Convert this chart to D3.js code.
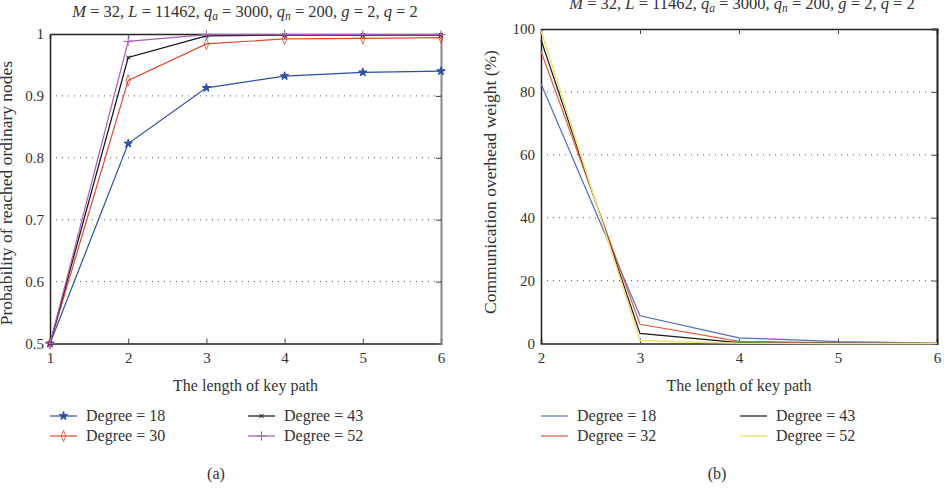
<!DOCTYPE html>
<html>
<meta charset="utf-8">
<head>
  <title>Key path charts</title>
</head>

<style>
body { margin: 0; background: white; }
svg text {
  font-family: "Times New Roman", "Liberation Serif", "DejaVu Serif", serif;
  font-size: 16px;
  fill: #333;
}
svg .tick text { font-size: 15px; }
svg .title { font-size: 16.5px; }
svg .ylabel { font-size: 17.5px; }
.grid line { stroke: #555; stroke-dasharray: 1 5; stroke-width: 1; }
</style>

<body>
  <svg width="947" height="492"></svg>

  <script src="https://cdnjs.cloudflare.com/ajax/libs/d3/7.8.5/d3.min.js"></script>
  <script>
// panel (a)
var pathLenA = [1, 2, 3, 4, 5, 6];
var degreesA = ["Degree = 18", "Degree = 30", "Degree = 43", "Degree = 52"];
var probDeg18 = [0.5, 0.823, 0.913, 0.932, 0.938, 0.940];
var probDeg30 = [0.5, 0.925, 0.984, 0.992, 0.993, 0.994];
var probDeg43 = [0.5, 0.962, 0.997, 0.998, 0.998, 0.998];
var probDeg52 = [0.5, 0.988, 0.999, 0.999, 0.999, 0.999];
var yTicksA = [0.5, 0.6, 0.7, 0.8, 0.9, 1];

// panel (b)
var pathLenB = [2, 3, 4, 5, 6];
var degreesB = ["Degree = 18", "Degree = 32", "Degree = 43", "Degree = 52"];
var costDeg18 = [82.6, 8.8, 1.8, 0.6, 0.1];
var costDeg32 = [92.9, 6.1, 0.7, 0.2, 0.05];
var costDeg43 = [96.6, 3.2, 0.3, 0.1, 0];
var costDeg52 = [99.5, 0.9, 0.1, 0, 0];
var yTicksB = [0, 20, 40, 60, 80, 100];

var svg = d3.select('svg');

function drawTitle(x, y) {
  var t = svg.append('text').attr('class', 'title').attr('x', x).attr('y', y).attr('text-anchor', 'middle');
  var parts = [
    ['M', 'i'], [' = 32, ', ''], ['L', 'i'], [' = 11462, ', ''],
    ['q', 'i'], ['a', 's'], [' = 3000, ', ''], ['q', 'i'], ['n', 's'],
    [' = 200, ', ''], ['g', 'i'], [' = 2, ', ''], ['q', 'i'], [' = 2', '']
  ];
  var lastSub = false;
  parts.forEach(function(p) {
    var s = t.append('tspan').text(p[0]);
    if (p[1] === 'i' || p[1] === 's') s.style('font-style', 'italic');
    if (p[1] === 's') { s.attr('dy', 3).style('font-size', '11.5px'); lastSub = true; }
    else if (lastSub) { s.attr('dy', -3); lastSub = false; }
  });
}

function panel(cfg) {
  var x = d3.scaleLinear().domain(cfg.xDomain).range([cfg.left, cfg.right]);
  var y = d3.scaleLinear().domain(cfg.yDomain).range([cfg.bottom, cfg.top]);
  var g = svg.append('g');

  // dotted grid
  g.append('g').attr('class', 'grid')
    .selectAll('line')
    .data(cfg.yTicks.slice(1, -1))
    .enter().append('line')
    .attr('x1', cfg.left).attr('x2', cfg.right)
    .attr('y1', function(d) { return y(d); })
    .attr('y2', function(d) { return y(d); });

  // axes
  var xAxis = g.append('g').attr('transform', 'translate(0,' + cfg.bottom + ')')
    .call(d3.axisBottom(x).tickValues(cfg.xTicks).tickSize(-5).tickPadding(9).tickFormat(d3.format('d')));
  var xTop = g.append('g').attr('transform', 'translate(0,' + cfg.top + ')')
    .call(d3.axisTop(x).tickValues(cfg.xTicks).tickSize(-5).tickFormat(''));
  var yAxis = g.append('g').attr('transform', 'translate(' + cfg.left + ',0)')
    .call(d3.axisLeft(y).tickValues(cfg.yTicks).tickSize(0).tickPadding(6).tickFormat(cfg.yFormat));
  var yRight = g.append('g').attr('transform', 'translate(' + cfg.right + ',0)')
    .call(d3.axisRight(y).tickValues(cfg.yTicks).tickSize(-5).tickFormat(''));

  [xAxis, xTop, yAxis, yRight].forEach(function(a) {
    a.attr('font-family', null).attr('font-size', null);
    a.select('.domain').attr('stroke', '#222').attr('stroke-width', 1.5);
    a.selectAll('.tick line').attr('stroke', '#444');
    a.selectAll('text').style('fill', '#333');
  });
  yRight.select('.domain').attr('stroke', cfg.rightEdge).attr('stroke-width', 2);

  // series
  var line = d3.line()
    .x(function(d) { return x(d[0]); })
    .y(function(d) { return y(d[1]); });

  cfg.series.forEach(function(s) {
    var pts = cfg.xs.map(function(v, i) { return [v, s.values[i]]; });
    g.append('path')
      .attr('d', line(pts))
      .attr('fill', 'none')
      .attr('stroke', s.color)
      .attr('stroke-width', s.width || 1.2);
    if (s.symbol) {
      g.selectAll(null).data(pts).enter().append('path')
        .attr('transform', function(d) { return 'translate(' + x(d[0]) + ',' + y(d[1]) + ')' + (s.sy ? ' scale(0.7,1)' : ''); })
        .attr('d', d3.symbol().type(s.symbol).size(s.size))
        .attr('fill', s.fill)
        .attr('stroke', s.color)
        .attr('stroke-width', 1);
    }
  });

  // axis labels
  svg.append('text')
    .attr('x', (cfg.left + cfg.right) / 2).attr('y', cfg.bottom + 47)
    .attr('text-anchor', 'middle')
    .text('The length of key path');
  svg.append('text')
    .attr('class', 'ylabel')
    .attr('transform', 'translate(' + cfg.yLabelX + ',' + cfg.yLabelY + ') rotate(-90)')
    .attr('text-anchor', 'middle')
    .text(cfg.yLabel);

  // legend
  cfg.series.forEach(function(s, i) {
    var lx = cfg.left + (i >= 2 ? cfg.legendCol : 0);
    var ly = 416 + (i % 2) * 20;
    var lg = svg.append('g');
    lg.append('line').attr('x1', lx).attr('x2', lx + 27).attr('y1', ly).attr('y2', ly)
      .attr('stroke', s.color).attr('stroke-width', s.width || 1.2);
    if (s.symbol) {
      lg.append('path')
        .attr('transform', 'translate(' + (lx + 13.5) + ',' + ly + ')' + (s.sy ? ' scale(0.7,1)' : ''))
        .attr('d', d3.symbol().type(s.symbol).size(s.size))
        .attr('fill', s.fill).attr('stroke', s.color).attr('stroke-width', 1);
    }
    lg.append('text').attr('x', lx + 36).attr('y', ly + 5).text(s.name);
  });

  svg.append('text')
    .attr('x', cfg.capX).attr('y', 479)
    .attr('text-anchor', 'middle')
    .text(cfg.caption);
}

drawTitle(245, 17);
drawTitle(742, 9);

var symX = d3.symbolTimes || d3.symbolX || d3.symbolCross;
var symPlus = d3.symbolPlus || d3.symbolCross;

panel({
  left: 50, right: 441, top: 34, bottom: 343.5,
  xDomain: [1, 6], yDomain: [0.5, 1],
  xTicks: pathLenA, yTicks: yTicksA, xs: pathLenA,
  yFormat: function(d) { return d === 1 ? '1' : d3.format('.1f')(d); },
  yLabel: 'Probability of reached ordinary nodes', yLabelX: 12, yLabelY: 193,
  legendCol: 198, capX: 216, caption: '(a)', rightEdge: '#888',
  series: [
    { name: degreesA[0], values: probDeg18, color: '#2d4fa6', symbol: d3.symbolStar, size: 22, fill: '#2d4fa6' },
    { name: degreesA[1], values: probDeg30, color: '#e8462f', symbol: d3.symbolDiamond, size: 36, fill: 'none', sy: true },
    { name: degreesA[2], values: probDeg43, color: '#111', symbol: symX, size: 12, fill: 'none' },
    { name: degreesA[3], values: probDeg52, color: '#a65fb5', symbol: symPlus, size: 30, fill: 'none' }
  ]
});

panel({
  left: 541, right: 937, top: 29, bottom: 343.5,
  xDomain: [2, 6], yDomain: [0, 100],
  xTicks: pathLenB, yTicks: yTicksB, xs: pathLenB,
  yFormat: d3.format('d'),
  yLabel: 'Communication overhead weight (%)', yLabelX: 496, yLabelY: 182,
  legendCol: 199, capX: 717, caption: '(b)', rightEdge: '#222',
  series: [
    { name: degreesB[0], values: costDeg18, color: '#4f6fbf' },
    { name: degreesB[1], values: costDeg32, color: '#e85a46' },
    { name: degreesB[2], values: costDeg43, color: '#1a1a1a' },
    { name: degreesB[3], values: costDeg52, color: '#efe37a', width: 1.6 }
  ]
});
  </script>
</body>
</html>
